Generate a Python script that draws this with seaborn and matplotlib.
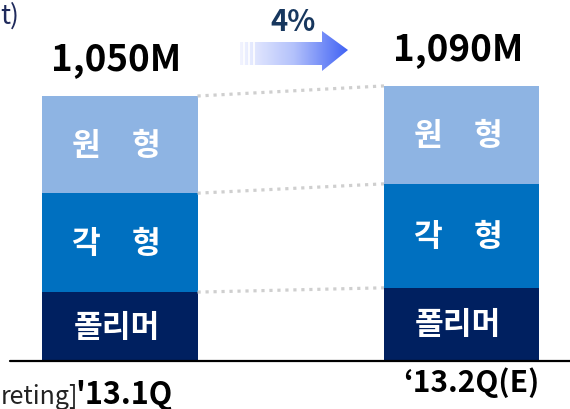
import numpy as np
import pandas as pd
import matplotlib
matplotlib.use("Agg")
import matplotlib.pyplot as plt
import seaborn as sns
from matplotlib.patches import Polygon
from matplotlib.colors import LinearSegmentedColormap

# ---------------- data ----------------
quarters = ["'13.1Q", "\u201813.2Q(E)"]
segment_names = ["폴리머", "각\u3000형", "원\u3000형"]
polymer = [273, 290]
prismatic = [392, 412]
cylindrical = [385, 388]
total_labels = ["1,050M", "1,090M"]
growth_label = "4%"

seg_colors = ["#002060", "#0070C0", "#8EB4E3"]

sns.set_theme(style="white")
plt.rcParams["font.family"] = ["Noto Sans CJK KR", "DejaVu Sans"]

df = pd.DataFrame({"quarter": quarters, "폴리머": polymer,
                   "각형": prismatic, "원형": cylindrical})
df["c1"] = df["폴리머"]
df["c2"] = df["c1"] + df["각형"]
df["c3"] = df["c2"] + df["원형"]

W, H = 570, 410
fig = plt.figure(figsize=(W / 100, H / 100), dpi=100)
ax = fig.add_axes([0, 0, 1, 1])

bar_w = 0.454
# stacked bars: draw cumulative totals, largest first
for col, color in zip(["c3", "c2", "c1"], seg_colors[::-1]):
    sns.barplot(data=df, x="quarter", y=col, order=quarters, color=color,
                saturation=1, width=bar_w, errorbar=None, linewidth=0, ax=ax)

# pixel mapping
base_px = 362.0
ppm = 265.0 / 1050.0
x0_px, spacing = 120.0, 341.5
ax.set_xlim(-x0_px / spacing, (W - x0_px) / spacing)
ax.set_ylim(-(H - base_px) / ppm, base_px / ppm)
ax.axis("off")


def px2x(p):
    return (p - x0_px) / spacing


def px2y(p):
    return (base_px - p) / ppm


# dotted connectors between segment tops
for col in ["c1", "c2", "c3"]:
    ax.plot([0 + bar_w / 2, 1 - bar_w / 2], [df[col][0], df[col][1]],
            color="#CFCFCF", lw=2.3, linestyle=(0, (1, 1.5)),
            solid_capstyle="butt", dash_capstyle="butt", zorder=1)

# baseline
ax.plot([px2x(10), px2x(W)], [0, 0], color="black", lw=1.6, zorder=5)

# segment labels
for i in range(2):
    lows = [0, df["c1"][i], df["c2"][i]]
    highs = [df["c1"][i], df["c2"][i], df["c3"][i]]
    for name, lo, hi in zip(segment_names, lows, highs):
        ax.text(i - 0.01, (lo + hi) / 2, name, color="white", fontsize=22.5,
                fontweight="bold", ha="center", va="center", zorder=6)

# totals
for i in range(2):
    ax.annotate(total_labels[i], (i - 0.01, df["c3"][i]), xytext=(0, 27),
                textcoords="offset points", ha="center", va="center",
                fontsize=26.5, fontweight="bold", color="black")

# category labels
ax.text(px2x(124), px2y(379), quarters[0], ha="center", va="top",
        fontsize=22, fontweight="bold", color="black")
ax.text(px2x(471), px2y(367), quarters[1], ha="center", va="top",
        fontsize=21.5, fontweight="bold", color="black")

# partial texts at the edges (only the visible parts)
ax.text(px2x(78), px2y(404), "reting]", ha="right", va="baseline",
        fontsize=18, color="#222222")
ax.text(px2x(0), px2y(2), "t)", ha="left", va="top",
        fontsize=19, color="#1F2A5C")

# growth arrow with gradient
arrow_px = [(240, 43), (322, 43), (322, 32), (348, 51), (322, 72),
            (322, 66), (240, 66)]
arrow_xy = [(px2x(a), px2y(b)) for a, b in arrow_px]
poly = Polygon(arrow_xy, closed=True, facecolor="none", edgecolor="none")
ax.add_patch(poly)
cmap = LinearSegmentedColormap.from_list("g", ["#F2F4FF", "#B3C1FB", "#4062F4"])
grad = np.linspace(0, 1, 256).reshape(1, -1)
im = ax.imshow(grad, cmap=cmap, aspect="auto",
               extent=[px2x(240), px2x(348), px2y(72), px2y(32)], zorder=3)
im.set_clip_path(poly)
for sx in [244, 249, 254]:
    ax.plot([px2x(sx), px2x(sx)], [px2y(43), px2y(66)], color="white",
            lw=1.2, zorder=4)
ax.text(px2x(293), px2y(22), growth_label, ha="center", va="center",
        fontsize=21, fontweight="bold", color="#17375E")

ax.set_xlim(-x0_px / spacing, (W - x0_px) / spacing)
ax.set_ylim(-(H - base_px) / ppm, base_px / ppm)

fig.savefig("out.png", dpi=100)
